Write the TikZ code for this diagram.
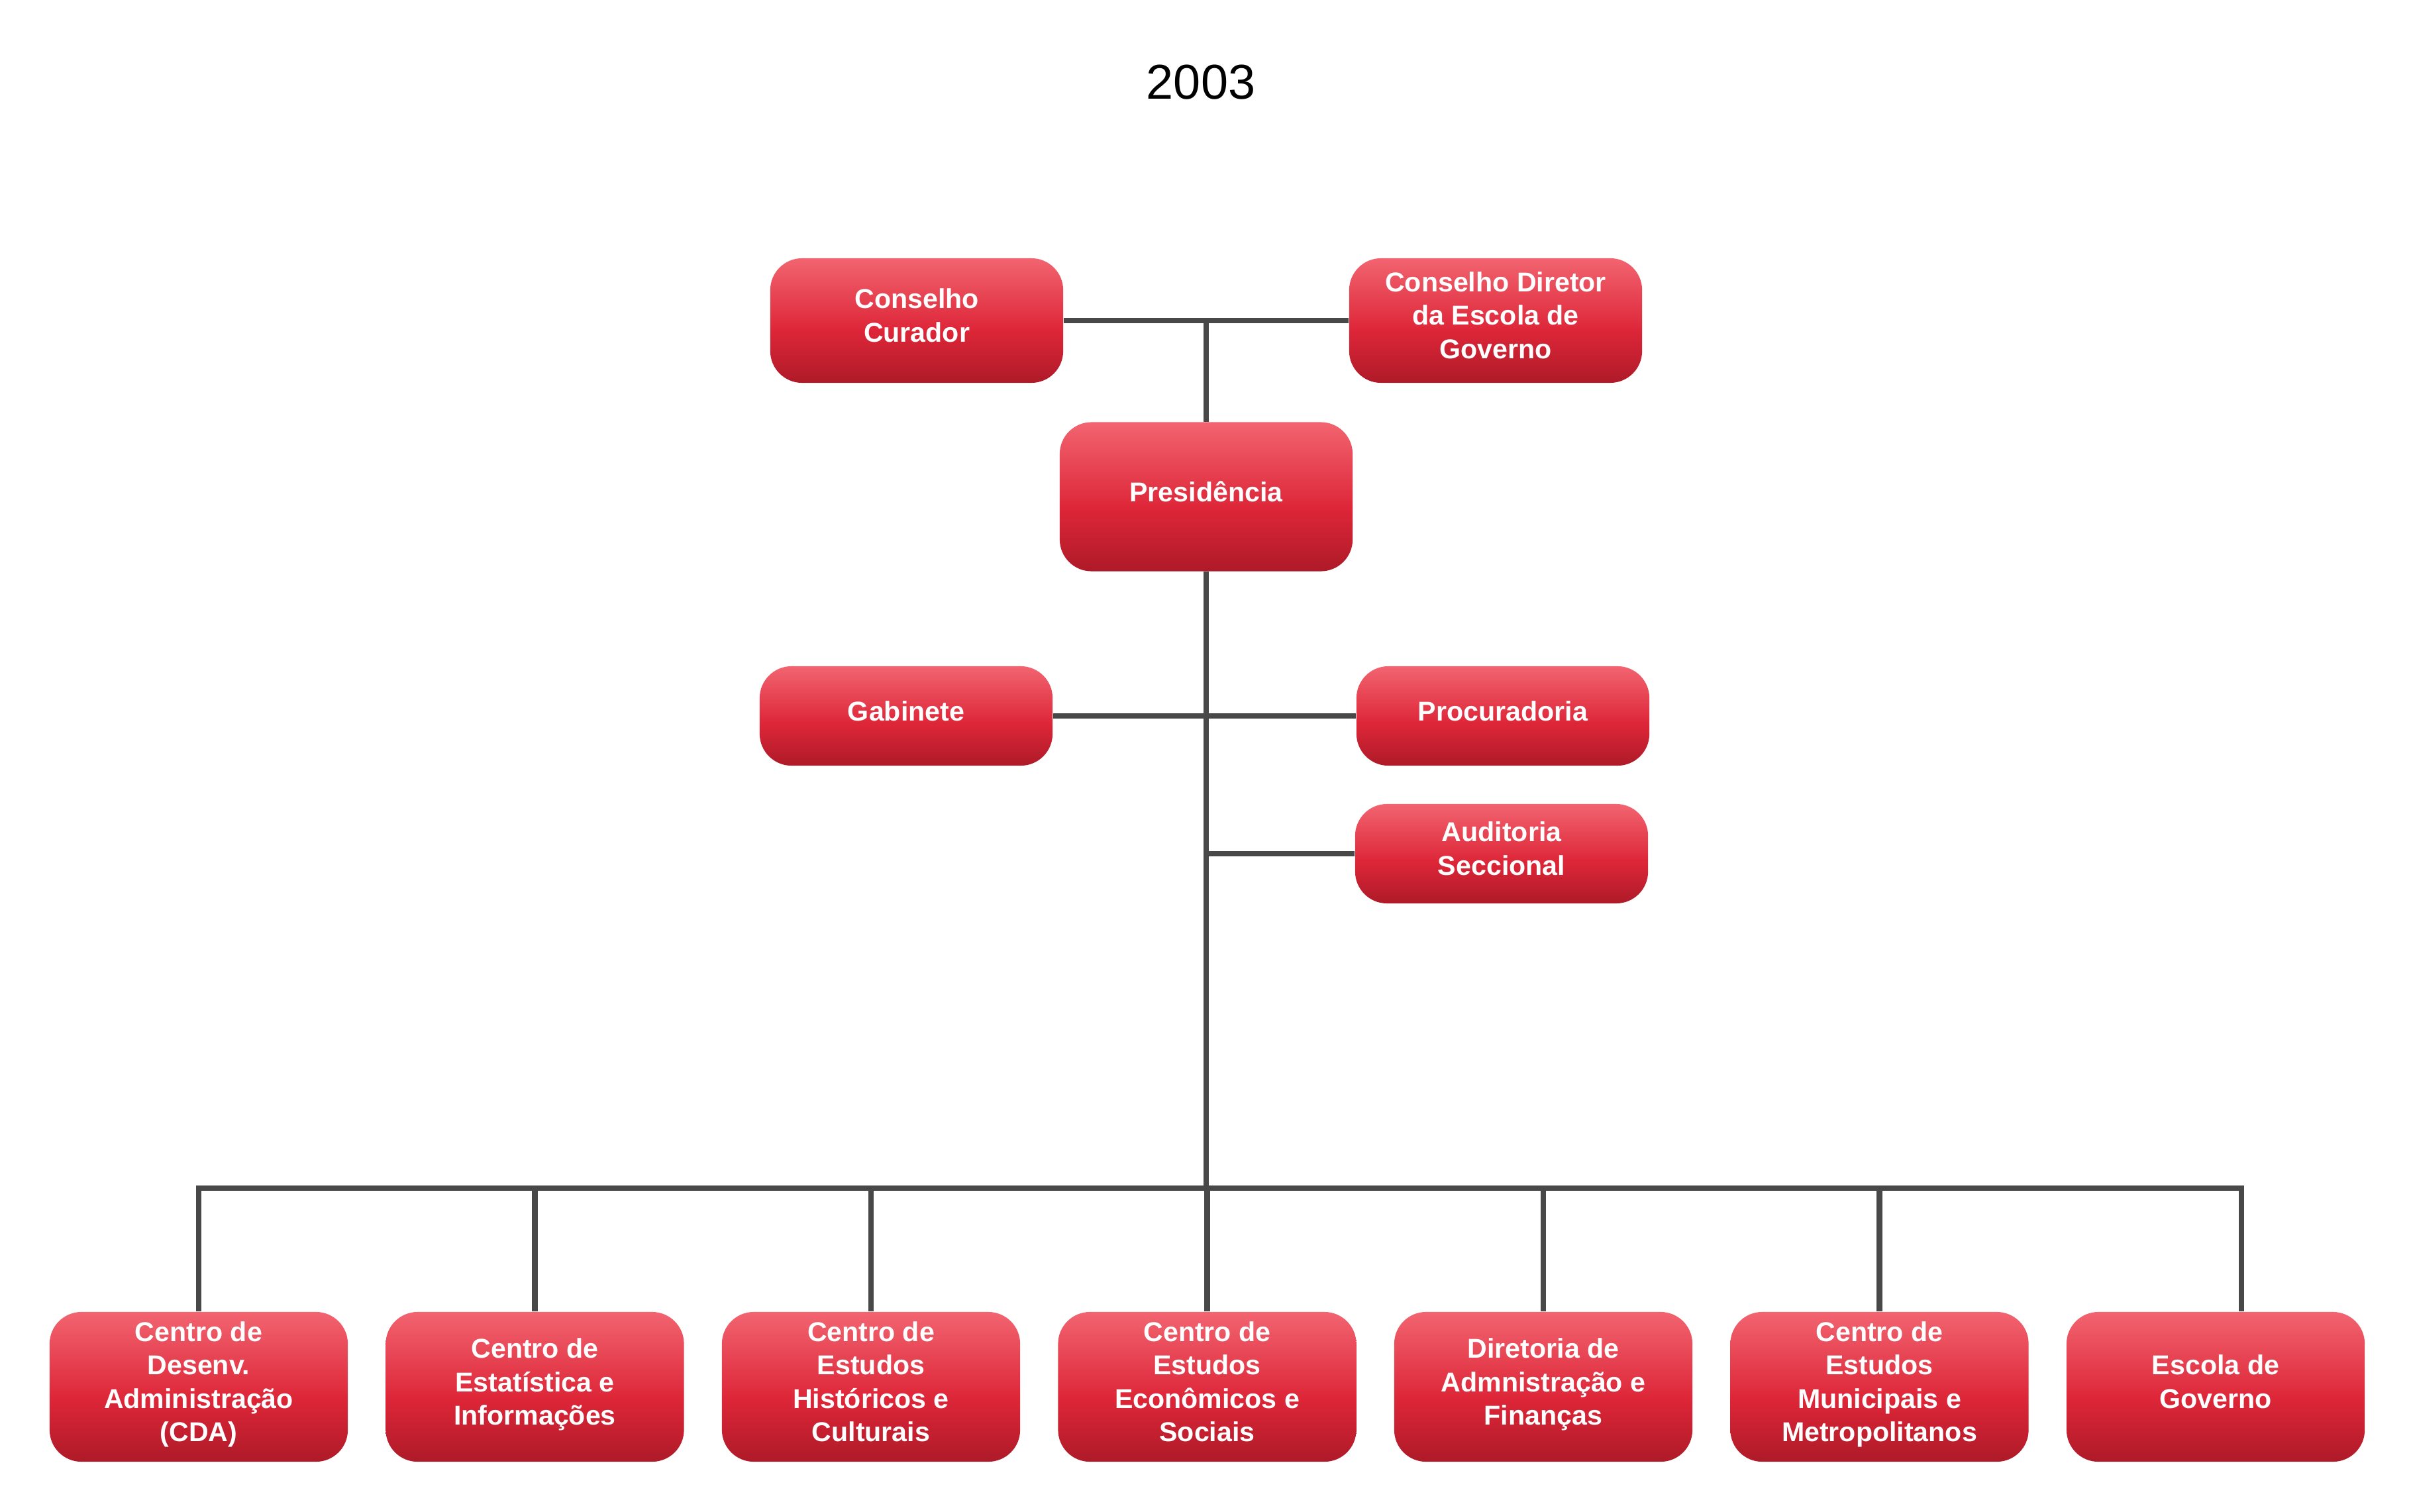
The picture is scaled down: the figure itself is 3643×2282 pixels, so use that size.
\documentclass[tikz,border=0pt]{standalone}
\usepackage{fontspec}
\setmainfont{Liberation Sans}
\definecolor{boxtop}{RGB}{242,100,112}
\definecolor{boxmid}{RGB}{221,38,56}
\definecolor{boxbot}{RGB}{174,26,40}
\definecolor{linegray}{RGB}{72,72,72}
\pgfdeclareverticalshading{redbox}{100bp}{color(0bp)=(boxbot); color(25bp)=(boxbot); color(46bp)=(boxmid); color(75bp)=(boxtop); color(100bp)=(boxtop)}
\begin{document}
\begin{tikzpicture}[x=0.01cm, y=-0.01cm,
        unit/.style={rounded corners=0.48cm, shading=redbox, text=white, align=center, inner sep=0pt,
            font=\bfseries\fontsize{11.7}{14.3}\selectfont, text depth=4.5pt, minimum width=4.42cm},
        lower/.style={unit, minimum width=4.5cm, minimum height=2.26cm},
        link/.style={draw=linegray, line width=2.4pt}]
        \useasboundingbox (0, 0) rectangle (3643, 2282);

        \node[font=\fontsize{21}{25}\selectfont] (title) at (1813, 124) {2003};

        \node[unit, minimum height=1.88cm] (curador) at (1384, 484) {Conselho\\Curador};
        \node[unit, minimum height=1.88cm] (diretor) at (2258, 484) {Conselho Diretor\\da Escola de\\Governo};
        \node[unit, minimum height=2.25cm] (pres) at (1821, 750) {Presidência};
        \node[unit, minimum height=1.5cm] (gab) at (1368, 1081) {Gabinete};
        \node[unit, minimum height=1.5cm] (proc) at (2269, 1081) {Procuradoria};
        \node[unit, minimum height=1.5cm] (aud) at (2267, 1289) {Auditoria\\Seccional};

        \node[lower] (cda) at (300, 2094) {Centro de\\Desenv.\\Administração\\(CDA)};
        \node[lower] (cei) at (807.5, 2094) {Centro de\\Estatística e\\Informações};
        \node[lower] (cehc) at (1315, 2094) {Centro de\\Estudos\\Históricos e\\Culturais};
        \node[lower] (cees) at (1822.5, 2094) {Centro de\\Estudos\\Econômicos e\\Sociais};
        \node[lower] (daf) at (2330, 2094) {Diretoria de\\Admnistração e\\Finanças};
        \node[lower] (cemm) at (2837.5, 2094) {Centro de\\Estudos\\Municipais e\\Metropolitanos};
        \node[lower] (escola) at (3345, 2094) {Escola de\\Governo};

        \coordinate (busR) at (3384, 1794);

        \draw[link] (curador.east) -- (diretor.west);
        \draw[link] (pres.north) -- (pres.north |- curador.east);
        \draw[link] (pres.south) -- (pres.south |- busR);
        \draw[link] (gab.east) -- (proc.west);
        \draw[link] (aud.west) -- (aud.west -| pres.south);
        \draw[link] (cda.north) |- (busR) -- (busR |- escola.north);
        \foreach \n in {cei, cehc, cees, daf, cemm}
            \draw[link] (\n.north) -- (\n.north |- busR);

    \end{tikzpicture}
\end{document}
